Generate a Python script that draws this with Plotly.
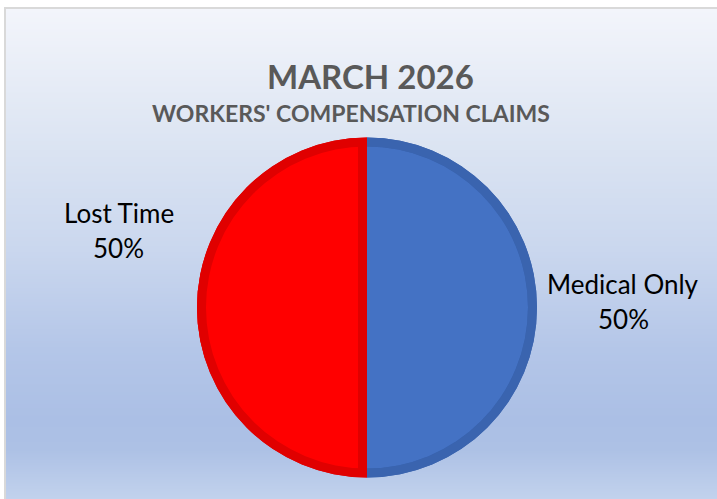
import zlib, struct, base64
import plotly.graph_objects as go

# ---- data ----
categories = ["Medical Only", "Lost Time"]
values = [50, 50]
title_text = "MARCH 2026"
subtitle_text = "WORKERS' COMPENSATION CLAIMS"

# ---- styles ----
W, H = 717, 499
light_colors = ["#4472C4", "#FF0000"]
dark_colors = ["#3A64AF", "#E00000"]
FONT = "Lato"
CLEAR = "rgba(0,0,0,0)"


def png_gradient(stops, h, w=4):
    rows = []
    for i in range(h):
        y = i
        for k in range(len(stops) - 1):
            y0, c0 = stops[k]
            y1, c1 = stops[k + 1]
            if y <= y1 or k == len(stops) - 2:
                t = min(max((y - y0) / (y1 - y0), 0), 1)
                break
        a = [int(c0[j:j + 2], 16) for j in (1, 3, 5)]
        b = [int(c1[j:j + 2], 16) for j in (1, 3, 5)]
        rgb = bytes(int(round(a[m] + (b[m] - a[m]) * t)) for m in range(3))
        rows.append(b"\x00" + rgb * w)
    raw = b"".join(rows)

    def chunk(tag, data):
        return (struct.pack(">I", len(data)) + tag + data
                + struct.pack(">I", zlib.crc32(tag + data) & 0xffffffff))

    png = (b"\x89PNG\r\n\x1a\n"
           + chunk(b"IHDR", struct.pack(">IIBBBBB", w, h, 8, 2, 0, 0, 0))
           + chunk(b"IDAT", zlib.compress(raw))
           + chunk(b"IEND", b""))
    return "data:image/png;base64," + base64.b64encode(png).decode()


# gradient image taller than the figure (extends past the bottom edge)
grad_h = 560
bg = png_gradient([(0, "#F3F5FB"), (120, "#DEE6F3"), (240, "#CAD7EE"),
                   (340, "#B4C6E8"), (410, "#ABBFE5"), (440, "#ADC1E5"),
                   (H - 9, "#C2D2ED"), (grad_h - 1, "#C8D6EF")], grad_h, w=8)

cx, cy = 367, 307.5   # pie centre in px (from top)
R, r_in, shift = 170, 161, 9


def dom(cxp, r):
    return dict(x=[(cxp - r) / W, (cxp + r) / W],
                y=[(H - cy - r) / H, (H - cy + r) / H])


common = dict(labels=categories, values=values, sort=False, direction="clockwise",
              rotation=0, textinfo="none", showlegend=False)

fig = go.Figure()
# base (dark)
fig.add_trace(go.Pie(**common, domain=dom(cx, R), marker=dict(colors=dark_colors),
                     hoverinfo="skip"))
# inner blue
fig.add_trace(go.Pie(**common, domain=dom(cx, r_in),
                     marker=dict(colors=[light_colors[0], CLEAR]), hoverinfo="skip"))
# inner red (shifted to leave dark seam)
fig.add_trace(go.Pie(**common, domain=dom(cx - shift, r_in),
                     marker=dict(colors=[CLEAR, light_colors[1]]), hoverinfo="skip"))
# outer dark ring
fig.add_trace(go.Pie(**common, domain=dom(cx, R), hole=r_in / R,
                     marker=dict(colors=dark_colors), hoverinfo="label+percent"))

total = sum(values)
pcts = [f"{round(100 * v / total)}%" for v in values]
label_pos = {"Medical Only": (623, 283.5, 318.5), "Lost Time": (119, 212.5, 247.5)}

annotations = []
for cat, p in zip(categories, pcts):
    x, y1, y2 = label_pos[cat]
    for txt, yy in ((cat, y1), (p, y2)):
        annotations.append(dict(text=txt, x=x / W, y=1 - yy / H, xref="paper", yref="paper",
                                xanchor="center", yanchor="middle", showarrow=False,
                                font=dict(family=FONT, size=26, color="#000000")))
annotations.append(dict(text=f"<b>{title_text}</b>", x=370 / W, y=1 - 76 / H, xref="paper",
                        yref="paper", xanchor="center", yanchor="middle", showarrow=False,
                        font=dict(family=FONT, size=33, color="#595959")))
annotations.append(dict(text=f"<b>{subtitle_text}</b>", x=351 / W, y=1 - 113 / H, xref="paper",
                        yref="paper", xanchor="center", yanchor="middle", showarrow=False,
                        font=dict(family=FONT, size=23, color="#595959")))

fig.update_layout(
    width=W, height=H, margin=dict(l=0, r=0, t=0, b=0),
    paper_bgcolor="#FFFFFF", plot_bgcolor="#FFFFFF",
    images=[dict(source=bg, xref="paper", yref="paper", x=6 / W, y=1 - 9 / H,
                 sizex=1.2, sizey=grad_h / H, xanchor="left", yanchor="top",
                 sizing="stretch", layer="below")],
    shapes=[
        dict(type="line", xref="paper", yref="paper", x0=5 / W, x1=5 / W,
             y0=-0.1, y1=1 - 8 / H, line=dict(color="#D9D9D9", width=2), layer="above"),
        dict(type="line", xref="paper", yref="paper", x0=4 / W, x1=1.1,
             y0=1 - 8 / H, y1=1 - 8 / H, line=dict(color="#D9D9D9", width=2), layer="above"),
    ],
    annotations=annotations,
)

fig.write_html("out.html", config={"displayModeBar": False},
               post_script="document.body.style.margin='0';document.body.style.overflow='hidden';")
